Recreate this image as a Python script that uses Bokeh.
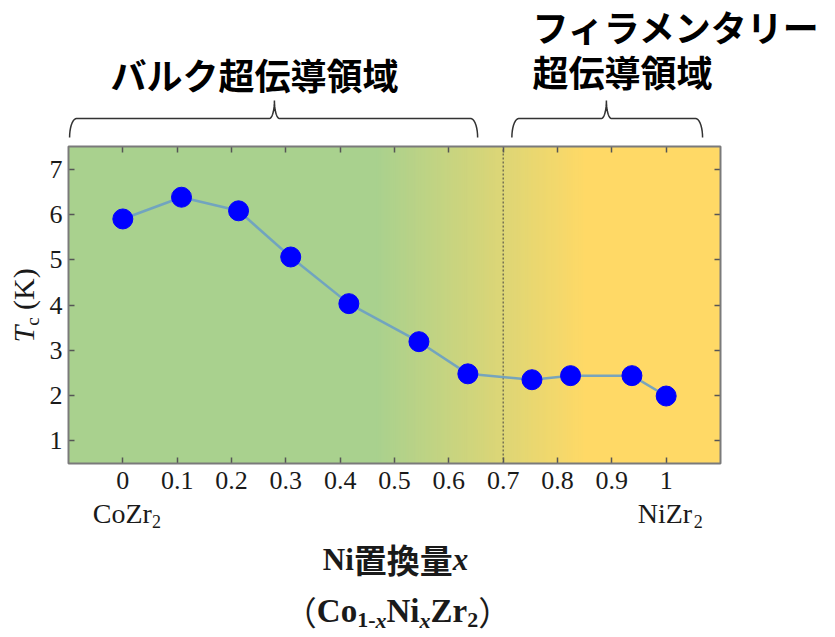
import math
import numpy as np
from bokeh.plotting import figure
from bokeh.models import Range1d, LinearAxis, FixedTicker, Label, PolyAnnotation, BoxAnnotation
from bokeh.embed import file_html
from bokeh.resources import INLINE

# ---------------- data ----------------
ni_fraction = [0.0, 0.108, 0.213, 0.309, 0.416, 0.545, 0.635, 0.753, 0.824, 0.937, 1.0]
tc_kelvin = [5.90, 6.38, 6.08, 5.06, 4.03, 3.19, 2.48, 2.35, 2.44, 2.44, 1.99]
x_tick_values = [0.0, 0.1, 0.2, 0.3, 0.4, 0.5, 0.6, 0.7, 0.8, 0.9, 1.0]
x_tick_labels = ["0", "0.1", "0.2", "0.3", "0.4", "0.5", "0.6", "0.7", "0.8", "0.9", "1"]
y_tick_values = [1, 2, 3, 4, 5, 6, 7]
end_compounds = [("CoZr", "2"), ("NiZr", "2")]
end_compound_x = [0.0, 1.0]
region_boundary = 0.7
gradient_start, gradient_end = 0.467, 0.853
bulk_color, filament_color = "#a9d18e", "#ffd966"
bulk_title = "バルク超伝導領域"
filament_title = ["フィラメンタリー", "超伝導領域"]
bulk_brace = [-0.098, 0.279, 0.653]      # left, tip, right (x)
filament_brace = [0.716, 0.890, 1.067]
x_min, x_max = -0.1, 1.1
y_min, y_max = 0.5, 7.5

# ---------------- layout ----------------
W, H = 835, 637
FX0, FX1, FY0, FY1 = 68, 720, 146, 463   # data rectangle on the canvas
SX = (FX1 - FX0) / (x_max - x_min)
SY = (FY1 - FY0) / (y_max - y_min)
SERIF = "Liberation Serif"
CJK = "Noto Sans CJK JP"
TXT = "#1a1a1a"
AX = "#7a7a7a"
BASE_SHIFT = 0.33   # empirical offset of Bokeh's alphabetic baseline (fraction of font size)


def cx(x):
    return FX0 + (x - x_min) * SX


p = figure(width=W, height=H,
           x_range=Range1d(x_min - FX0 / SX, x_max + (W - FX1) / SX),
           y_range=Range1d(y_min - (H - FY1) / SY, y_max + FY0 / SY),
           output_backend="svg", toolbar_location=None,
           min_border_left=0, min_border_right=0, min_border_top=0, min_border_bottom=0)
p.xgrid.grid_line_color = None
p.ygrid.grid_line_color = None
p.background_fill_color = "white"
p.border_fill_color = "white"
p.outline_line_color = None

# background gradient inside the data rectangle
def hex_rgb(h):
    return np.array([int(h[i:i + 2], 16) for i in (1, 3, 5)], dtype=float)

c0, c1 = hex_rgb(bulk_color), hex_rgb(filament_color)
n = 110
edges = np.linspace(gradient_start, gradient_end, n + 1)
t = (np.arange(n) + 0.5) / n
cols = ["#%02x%02x%02x" % tuple(int(round(v)) for v in (c0 + (c1 - c0) * tt)) for tt in t]
p.quad(left=[x_min], right=[gradient_start + 0.002], bottom=[y_min], top=[y_max],
       fill_color=bulk_color, line_color=None)
p.quad(left=edges[:-1], right=edges[1:] + 0.002, bottom=y_min, top=y_max,
       fill_color=cols, line_color=None)
p.quad(left=[gradient_end], right=[x_max], bottom=[y_min], top=[y_max],
       fill_color=filament_color, line_color=None)

p.segment(x0=[region_boundary], y0=[y_min], x1=[region_boundary], y1=[y_max],
          line_color="#444444", line_width=1, line_dash="2 2")

p.line(ni_fraction, tc_kelvin, line_color="#6a9fc4", line_width=2.5, line_alpha=0.9)
p.scatter(ni_fraction, tc_kelvin, size=20, fill_color="#0000ff", line_color="#0000ff")

p.add_layout(BoxAnnotation(left=x_min, right=x_max, bottom=y_min, top=y_max,
                           fill_alpha=0, fill_color=None, line_color=AX, line_alpha=1,
                           line_width=2))


# axes, fixed on the edges of the data rectangle
def style_axis(ax):
    ax.axis_line_color = None
    ax.major_tick_line_color = "#555555"
    ax.major_tick_line_width = 1.5
    ax.major_tick_in = 6
    ax.major_tick_out = 0
    ax.minor_tick_line_color = None
    ax.major_label_text_font = SERIF
    ax.major_label_text_font_size = "26px"
    ax.major_label_text_color = TXT


p.xaxis.ticker = FixedTicker(ticks=x_tick_values)
p.yaxis.ticker = FixedTicker(ticks=y_tick_values)
p.xaxis.major_label_overrides = {v: s for v, s in zip(x_tick_values, x_tick_labels)}
style_axis(p.xaxis[0])
style_axis(p.yaxis[0])
p.xaxis.fixed_location = y_min
p.yaxis.fixed_location = x_min
p.xaxis.major_label_standoff = 8
p.yaxis.major_label_standoff = 6

top_ax = LinearAxis(ticker=FixedTicker(ticks=x_tick_values), fixed_location=y_max,
                    major_label_overrides={v: "" for v in x_tick_values})
right_ax = LinearAxis(ticker=FixedTicker(ticks=y_tick_values), fixed_location=x_max,
                      major_label_overrides={v: "" for v in y_tick_values})
style_axis(top_ax)
style_axis(right_ax)
p.add_layout(top_ax, "above")
p.add_layout(right_ax, "right")


# text runs helper (canvas pixels, x0/y0 = left end of the baseline)
def runs_width(runs):
    return sum(r[4] * r[2] for r in runs)


def add_runs(runs, x0, y0, vertical=False):
    pos = 0.0
    for text, font, size, style, em, shift in runs:
        off = BASE_SHIFT * size
        if text:
            if vertical:
                lab = Label(x=x0 + shift - off, y=y0 - pos, angle=math.pi / 2)
            else:
                lab = Label(x=x0 + pos, y=y0 + shift - off)
            lab.x_units = "canvas"
            lab.y_units = "canvas"
            lab.text = text
            lab.text_font = font
            lab.text_font_size = f"{size}px"
            lab.text_font_style = style
            lab.text_color = TXT
            lab.text_align = "left"
            lab.text_baseline = "alphabetic"
            p.add_layout(lab)
        pos += em * size


# y axis title  T_c (K)
yruns = [("T", SERIF, 30, "italic", 0.556, 0),
         ("c", SERIF, 19, "normal", 0.444, 5),
         ("", SERIF, 30, "normal", 0.25, 0),
         ("(K)", SERIF, 30, "normal", 1.388, 0)]
add_runs(yruns, 33, 342, vertical=True)

# compound labels under the ends
for (base, sub), xv in zip(end_compounds, end_compound_x):
    runs = [(base, SERIF, 28, "normal", 2.0 if base.startswith("Ni") else 2.111, 0),
            (sub, SERIF, 18, "normal", 0.5, 5)]
    w = runs_width(runs)
    add_runs(runs, cx(xv) + 4 - w / 2, 522)

# x axis title
line1 = [("Ni", SERIF, 31, "bold", 1.0, 0),
         ("置換量", CJK, 33, "bold", 3.0, 0),
         ("x", SERIF, 31, "bold italic", 0.5, 0)]
add_runs(line1, 395 - runs_width(line1) / 2, 569)
line2 = [("（", CJK, 33, "normal", 1.0, 0),
         ("Co", SERIF, 33, "bold", 1.222, 0),
         ("1-", SERIF, 22, "bold", 0.833, 6),
         ("x", SERIF, 22, "bold italic", 0.5, 6),
         ("Ni", SERIF, 33, "bold", 1.0, 0),
         ("x", SERIF, 22, "bold italic", 0.5, 6),
         ("Zr", SERIF, 33, "bold", 1.111, 0),
         ("2", SERIF, 22, "bold", 0.5, 6),
         ("）", CJK, 33, "normal", 1.0, 0)]
add_runs(line2, 397 - runs_width(line2) / 2, 621)

# region titles
p.add_layout(Label(x=254, y=73, x_units="canvas", y_units="canvas", text=bulk_title,
                   text_font=CJK, text_font_size="36px", text_font_style="bold",
                   text_color="black", text_align="center", text_baseline="middle"))
for i, s in enumerate(filament_title):
    p.add_layout(Label(x=532, y=25 + 45 * i, x_units="canvas", y_units="canvas", text=s,
                       text_font=CJK, text_font_size="36px", text_font_style="bold",
                       text_color="black", text_align="left", text_baseline="middle"))


# braces
def brace_path(x0, xm, x1, y_line=118, y_end=137, y_tip=100, r_end=7, r_mid=5):
    pts = []
    th = np.linspace(math.pi, 1.5 * math.pi, 10)
    pts += [(x0 + r_end + r_end * math.cos(a), y_end + (y_end - y_line) * math.sin(a)) for a in th]
    th = np.linspace(0.5 * math.pi, 0.0, 10)
    pts += [(xm - r_mid + r_mid * math.cos(a), y_tip + (y_line - y_tip) * math.sin(a)) for a in th]
    th = np.linspace(math.pi, 0.5 * math.pi, 10)
    pts += [(xm + r_mid + r_mid * math.cos(a), y_tip + (y_line - y_tip) * math.sin(a)) for a in th]
    th = np.linspace(1.5 * math.pi, 2 * math.pi, 10)
    pts += [(x1 - r_end + r_end * math.cos(a), y_end + (y_end - y_line) * math.sin(a)) for a in th]
    pts = pts + pts[::-1]
    return [q[0] for q in pts], [q[1] for q in pts]


for b in (bulk_brace, filament_brace):
    xs, ys = brace_path(cx(b[0]), cx(b[1]), cx(b[2]))
    p.add_layout(PolyAnnotation(xs=xs, ys=ys, xs_units="canvas", ys_units="canvas",
                                fill_alpha=0, line_color="#333333", line_alpha=1,
                                line_width=1.5))

open("out.html", "w").write(file_html(p, INLINE))
